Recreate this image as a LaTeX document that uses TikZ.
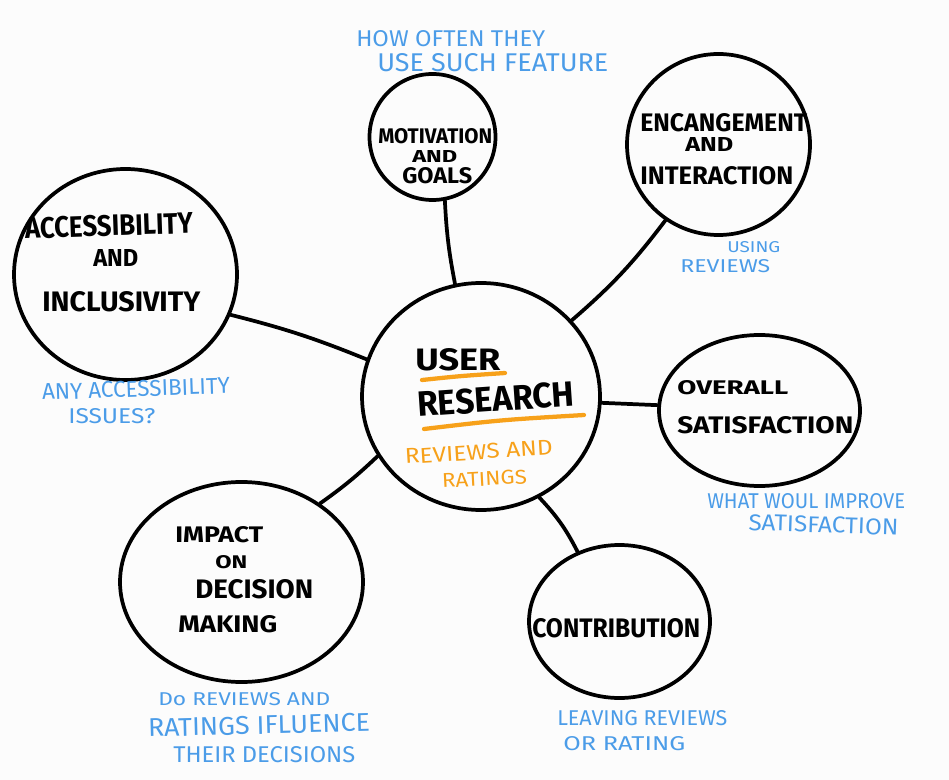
\documentclass[tikz,border=0pt]{standalone}
\usepackage{fontspec}
\setmainfont{Fira Sans}
\usepackage{graphicx}
\usetikzlibrary{shapes.geometric}
\newlength\pxu \setlength\pxu{0.75pt}
\newcommand\hw[3]{\resizebox{#1\pxu}{#2\pxu}{#3}}
\definecolor{inkblue}{HTML}{4B9CE8}
\definecolor{inkorange}{HTML}{F7A11A}
\definecolor{paper}{HTML}{FCFCFC}
\tikzset{
 bubble/.style={ellipse, draw, line width=2.8pt, inner sep=0pt},
 lbl/.style={anchor=base west, inner sep=0pt, font=\bfseries},
 note/.style={anchor=base west, inner sep=0pt, text=inkblue},
 onote/.style={anchor=base west, inner sep=0pt, text=inkorange},
 link/.style={line width=2.8pt, line cap=round},
 uline/.style={line width=3.2pt, inkorange, line cap=round}
}
\begin{document}
\begin{tikzpicture}[x=0.75pt,y=-0.75pt]
\fill[paper] (0,0) rectangle (949,780);
\useasboundingbox (0,0) rectangle (949,780);

% bubbles
\node[bubble, minimum width=238\pxu, minimum height=227\pxu] (C) at (481,396.5) {};
\node[bubble, minimum width=126\pxu, minimum height=126\pxu] (M) at (432.5,137) {};
\node[bubble, minimum width=183\pxu, minimum height=181\pxu] (E) at (718.5,144.5) {};
\node[bubble, minimum width=223\pxu, minimum height=211\pxu] (A) at (125.5,274.5) {};
\node[bubble, minimum width=201\pxu, minimum height=151\pxu] (S) at (759.5,410.5) {};
\node[bubble, minimum width=243\pxu, minimum height=200\pxu] (I) at (241.5,582) {};
\node[bubble, minimum width=181\pxu, minimum height=153\pxu] (T) at (619.5,621.5) {};

% connectors
\draw[link] (M.-79) to[bend right=4] (C.103);
\draw[link] (E.-125) to[bend left=6] (C.40);
\draw[link] (A.-21) to[bend left=4] (C.162);
\draw[link] (C.-3.5) -- (S.177);
\draw[link] (C.-150) to[bend left=4] (I.45);
\draw[link] (C.-60) to[bend left=8] (T.121);

% black labels
\node[lbl] (m1) at (378,144) {\hw{114}{15}{MOTIVATION}};
\node[lbl] (m2) at (412,163) {\hw{45}{12}{AND}};
\node[lbl] (m3) at (402,184) {\hw{70}{16}{GOALS}};
\node[lbl] (e1) at (640,132) {\hw{167}{18}{ENCANGEMENT}};
\node[lbl] (e2) at (685,152) {\hw{48}{14}{AND}};
\node[lbl] (e3) at (640,185) {\hw{153}{18}{INTERACTION}};
\node[lbl, rotate=2] (a1) at (25,239) {\hw{168}{21}{ACCESSIBILITY}};
\node[lbl] (a2) at (93,267) {\hw{45}{17}{AND}};
\node[lbl] (a3) at (42,312) {\hw{158}{20}{INCLUSIVITY}};
\node[lbl] (c1) at (415,370) {\hw{85}{22}{USER}};
\node[lbl, rotate=4] (c2) at (418,417) {\hw{157}{25}{RESEARCH}};
\node[lbl] (s1) at (677,394) {\hw{111}{14}{OVERALL}};
\node[lbl] (s2) at (677,433) {\hw{176}{17}{SATISFACTION}};
\node[lbl] (i1) at (175,542) {\hw{88}{16}{IMPACT}};
\node[lbl] (i2) at (215,568) {\hw{32}{13}{ON}};
\node[lbl] (i3) at (195,598) {\hw{118}{19}{DECISION}};
\node[lbl] (i4) at (178,632) {\hw{99}{17}{MAKING}};
\node[lbl] (t1) at (532,637) {\hw{168}{19}{CONTRIBUTION}};

% orange underlines and note
\draw[uline] (422,380) .. controls (460,376) .. (505,373);
\draw[uline] (424,429) .. controls (500,420) .. (584,415);
\node[onote, rotate=3.5] (o1) at (405,464) {\hw{148}{15}{REVIEWS AND}};
\node[onote, rotate=3] (o2) at (442,488) {\hw{85}{14}{RATINGS}};

% blue notes
\node[note] (n1) at (356,47) {\hw{189}{16}{HOW OFTEN THEY}};
\node[note] (n2) at (377,72) {\hw{231}{18}{USE SUCH FEATURE}};
\node[note] (n3) at (727,253) {\hw{53}{11}{USING}};
\node[note] (n4) at (680,273) {\hw{90}{13}{REVIEWS}};
\node[note, rotate=2] (n5) at (42,400) {\hw{188}{16}{ANY ACCESSIBILITY}};
\node[note] (n6) at (68,423) {\hw{87}{15}{ISSUES?}};
\node[note] (n7) at (707,508) {\hw{198}{15}{WHAT WOUL IMPROVE}};
\node[note, rotate=-2] (n8) at (748,530) {\hw{150}{16}{SATISFACTION}};
\node[note] (n9) at (158,705) {\hw{172}{13}{Do REVIEWS AND}};
\node[note, rotate=1.5] (n10) at (148,737) {\hw{222}{18}{RATINGS IFLUENCE}};
\node[note] (n11) at (173,762) {\hw{182}{16}{THEIR DECISIONS}};
\node[note] (n12) at (557,725) {\hw{170}{15}{LEAVING REVIEWS}};
\node[note] (n13) at (563,750) {\hw{122}{14}{OR RATING}};
\end{tikzpicture}
\end{document}
